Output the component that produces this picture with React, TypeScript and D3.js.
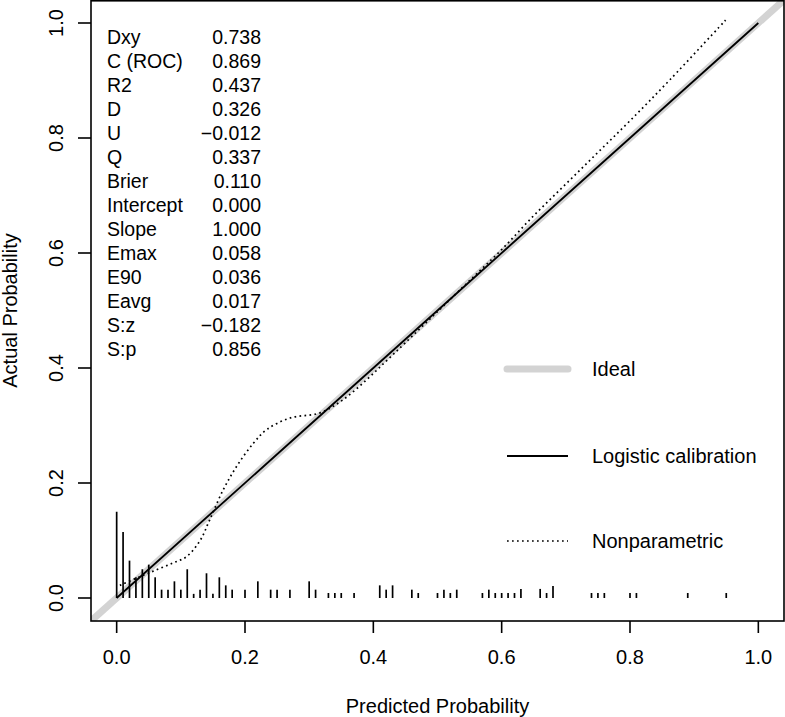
import React from "react";
import * as d3 from "d3";

// ---- data ----
const statLabels = ["Dxy", "C (ROC)", "R2", "D", "U", "Q", "Brier", "Intercept", "Slope", "Emax", "E90", "Eavg", "S:z", "S:p"];
const statValues = ["0.738", "0.869", "0.437", "0.326", "\u22120.012", "0.337", "0.110", "0.000", "1.000", "0.058", "0.036", "0.017", "\u22120.182", "0.856"];

const tickValues = [0, 0.2, 0.4, 0.6, 0.8, 1.0];
const tickLabels = ["0.0", "0.2", "0.4", "0.6", "0.8", "1.0"];

const idealX = [-0.04, 1.04];
const idealY = [-0.04, 1.04];

const logisticX = [0, 0.25, 0.5, 0.75, 1.0];
const logisticY = [0, 0.25, 0.5, 0.75, 1.0];

const nonparX = [0.005, 0.036, 0.062, 0.088, 0.109, 0.13, 0.145, 0.166, 0.187, 0.213, 0.234, 0.27, 0.317, 0.353, 0.389, 0.42, 0.45, 0.5, 0.55, 0.6, 0.65, 0.7, 0.75, 0.8, 0.862, 0.949];
const nonparY = [0.022, 0.037, 0.049, 0.061, 0.072, 0.1, 0.136, 0.188, 0.229, 0.269, 0.293, 0.313, 0.322, 0.345, 0.379, 0.412, 0.444, 0.498, 0.552, 0.606, 0.665, 0.72, 0.775, 0.83, 0.901, 1.005];

const spikeX = [0.0, 0.01, 0.02, 0.03, 0.04, 0.05, 0.06, 0.07, 0.08, 0.09, 0.10, 0.11, 0.12, 0.13, 0.14, 0.15, 0.16, 0.17, 0.18, 0.20, 0.22, 0.24, 0.25, 0.27, 0.30, 0.31, 0.33, 0.34, 0.35, 0.37, 0.41, 0.42, 0.43, 0.46, 0.47, 0.50, 0.51, 0.52, 0.53, 0.57, 0.58, 0.59, 0.60, 0.61, 0.62, 0.63, 0.66, 0.67, 0.68, 0.74, 0.75, 0.76, 0.80, 0.81, 0.89, 0.95];
const spikeH = [0.15, 0.115, 0.065, 0.036, 0.05, 0.058, 0.036, 0.0145, 0.0145, 0.029, 0.0145, 0.05, 0.0072, 0.0145, 0.043, 0.0072, 0.036, 0.022, 0.0145, 0.0145, 0.029, 0.0145, 0.0145, 0.0145, 0.029, 0.0145, 0.0087, 0.0087, 0.0087, 0.0087, 0.022, 0.0145, 0.022, 0.0145, 0.0087, 0.0087, 0.0145, 0.0087, 0.0145, 0.0087, 0.0145, 0.0087, 0.0087, 0.0087, 0.0087, 0.0158, 0.0158, 0.0087, 0.021, 0.0087, 0.0087, 0.0087, 0.0087, 0.0087, 0.0087, 0.0087];

const legendLabels = ["Ideal", "Logistic calibration", "Nonparametric"];

const FONT = "'Liberation Sans', Arial, Helvetica, sans-serif";

export default function App() {
  const W = 785, H = 717;
  const left = 91, right = 784, top = 0, bottom = 621;
  const x = d3.scaleLinear().domain([-0.04, 1.04]).range([left, right]);
  const y = d3.scaleLinear().domain([-0.04, 1.04]).range([bottom, top]);

  const line = d3.line<[number, number]>().x(d => x(d[0])).y(d => y(d[1]));
  const smooth = d3.line<[number, number]>().x(d => x(d[0])).y(d => y(d[1])).curve(d3.curveCatmullRom.alpha(0.5));

  const idealPath = line(idealX.map((v, i) => [v, idealY[i]]))!;
  const logisticPath = line(logisticX.map((v, i) => [v, logisticY[i]]))!;
  const nonparPath = smooth(nonparX.map((v, i) => [v, nonparY[i]]))!;

  const legendY = [369, 456, 541];
  const legX1 = 507, legX2 = 568, legTextX = 592;

  return (
    <svg width={W} height={H} style={{ position: "absolute", left: 0, top: 0, background: "#fff" }} fontFamily={FONT}>
      <defs>
        <clipPath id="plotclip">
          <rect x={left} y={top} width={right - left} height={bottom - top} />
        </clipPath>
      </defs>
      <rect x={0} y={0} width={W} height={H} fill="#fff" />
      <g clipPath="url(#plotclip)">
        <path d={idealPath} stroke="#d3d3d3" strokeWidth={7} fill="none" />
        {spikeX.map((v, i) => (
          <line key={i} x1={x(v)} x2={x(v)} y1={y(0)} y2={y(spikeH[i])} stroke="#000" strokeWidth={1.7} />
        ))}
        <path d={logisticPath} stroke="#000" strokeWidth={1.8} fill="none" />
        <path d={nonparPath} stroke="#000" strokeWidth={1.7} strokeDasharray="1.7 3.3" fill="none" />
      </g>
      {/* frame */}
      <rect x={left} y={top + 0.8} width={right - left} height={bottom - top - 0.8} fill="none" stroke="#000" strokeWidth={1.6} />
      {/* x axis */}
      {tickValues.map((v, i) => (
        <g key={"xt" + i}>
          <line x1={x(v)} x2={x(v)} y1={bottom} y2={bottom + 12} stroke="#000" strokeWidth={1.6} />
          <text x={x(v)} y={664} fontSize={20} textAnchor="middle" fill="#000">{tickLabels[i]}</text>
        </g>
      ))}
      {tickValues.map((v, i) => (
        <g key={"yt" + i}>
          <line x1={left} x2={left - 13} y1={y(v)} y2={y(v)} stroke="#000" strokeWidth={1.6} />
          <text transform={`translate(63,${y(v)}) rotate(-90)`} fontSize={20} textAnchor="middle" fill="#000">{tickLabels[i]}</text>
        </g>
      ))}
      <text x={(left + right) / 2} y={713} fontSize={20} textAnchor="middle" fill="#000">Predicted Probability</text>
      <text transform={`translate(17,${(top + bottom) / 2}) rotate(-90)`} fontSize={20} textAnchor="middle" fill="#000">Actual Probability</text>
      {/* stats */}
      {statLabels.map((s, i) => (
        <g key={"st" + i}>
          <text x={107} y={44 + i * 24} fontSize={19.5} fill="#000">{s}</text>
          <text x={261} y={44 + i * 24} fontSize={19.5} textAnchor="end" fill="#000">{statValues[i]}</text>
        </g>
      ))}
      {/* legend */}
      <line x1={legX1} x2={legX2} y1={legendY[0]} y2={legendY[0]} stroke="#d3d3d3" strokeWidth={7} strokeLinecap="round" />
      <line x1={legX1} x2={legX2} y1={legendY[1]} y2={legendY[1]} stroke="#000" strokeWidth={1.8} />
      <line x1={legX1} x2={legX2} y1={legendY[2]} y2={legendY[2]} stroke="#000" strokeWidth={1.7} strokeDasharray="1.7 3.3" />
      {legendLabels.map((l, i) => (
        <text key={"lg" + i} x={legTextX} y={legendY[i] + 7} fontSize={20} fill="#000">{l}</text>
      ))}
    </svg>
  );
}
